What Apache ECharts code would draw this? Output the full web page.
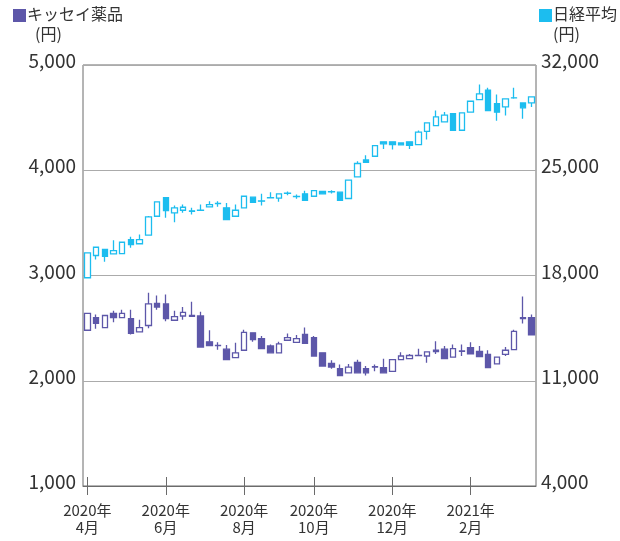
<!DOCTYPE html>
<html>
<head>
<meta charset="utf-8">
<script src="https://cdn.jsdelivr.net/npm/echarts@6/dist/echarts.min.js"></script>
<style>
  html, body { margin: 0; padding: 0; background: #fff; }
  #chart { width: 620px; height: 541px; }
</style>
</head>
<body>
<div id="chart"></div>
<script>
// weekly candles, [open, close, low, high]
const kisseiCandles = [
  [2480, 2640, 2475, 2645], [2600, 2545, 2495, 2630], [2505, 2620, 2500, 2625], [2640, 2600, 2555, 2665],
  [2600, 2640, 2595, 2675], [2590, 2450, 2440, 2675], [2465, 2505, 2460, 2580], [2525, 2730, 2500, 2835],
  [2735, 2700, 2675, 2810], [2730, 2590, 2565, 2820], [2575, 2610, 2570, 2665], [2615, 2650, 2580, 2700],
  [2620, 2612, 2605, 2750], [2615, 2320, 2315, 2655], [2370, 2335, 2330, 2480], [2337, 2333, 2295, 2365],
  [2300, 2200, 2195, 2340], [2220, 2265, 2215, 2360], [2290, 2460, 2285, 2485], [2455, 2390, 2370, 2460],
  [2400, 2305, 2300, 2425], [2330, 2265, 2260, 2345], [2265, 2350, 2260, 2370], [2385, 2410, 2380, 2450],
  [2365, 2400, 2360, 2435], [2440, 2355, 2350, 2505], [2410, 2235, 2230, 2425], [2265, 2140, 2135, 2270],
  [2165, 2130, 2115, 2195], [2115, 2050, 2045, 2155], [2075, 2130, 2070, 2160], [2175, 2075, 2070, 2200],
  [2115, 2075, 2050, 2140], [2135, 2130, 2090, 2155], [2125, 2075, 2070, 2210], [2090, 2200, 2085, 2205],
  [2200, 2235, 2195, 2270], [2210, 2240, 2205, 2255], [2242, 2238, 2235, 2305], [2235, 2275, 2170, 2280],
  [2290, 2278, 2255, 2375], [2300, 2210, 2205, 2330], [2225, 2305, 2220, 2345], [2283, 2280, 2235, 2345],
  [2315, 2255, 2250, 2365], [2280, 2230, 2225, 2330], [2250, 2125, 2120, 2290], [2160, 2225, 2155, 2230],
  [2250, 2290, 2235, 2320], [2295, 2470, 2290, 2485], [2600, 2590, 2545, 2800], [2600, 2435, 2430, 2630]
];

const nikkeiCandles = [
  [17850, 19500, 17800, 19550], [19330, 19880, 19060, 19900], [19730, 19280, 18910, 19760], [19440, 19660, 19400, 20350],
  [19460, 20210, 19450, 20250], [20390, 20060, 19840, 20570], [20110, 20390, 20100, 20720], [20680, 21900, 20660, 21950],
  [21940, 22900, 21920, 22920], [23170, 22320, 21840, 23200], [22170, 22500, 21540, 22650], [22340, 22540, 22170, 22720],
  [22300, 22270, 22050, 22500], [22350, 22340, 22320, 22720], [22570, 22720, 22560, 22940], [22790, 22780, 22570, 22940],
  [22500, 21720, 21700, 22830], [21940, 22340, 21930, 22720], [22500, 23270, 22480, 23300], [23210, 22870, 22860, 23220],
  [22960, 22940, 22650, 23430], [23170, 23160, 23150, 23540], [23140, 23430, 22900, 23440], [23480, 23470, 23340, 23580],
  [23260, 23250, 23100, 23390], [23430, 23000, 22990, 23630], [23270, 23650, 23260, 23660], [23600, 23430, 23420, 23620],
  [23570, 23560, 23450, 23670], [23540, 22990, 22980, 23560], [23120, 24340, 23110, 24360], [24560, 25450, 24550, 25600],
  [25690, 25530, 25500, 26000], [25930, 26640, 25920, 26660], [26890, 26760, 26420, 26900], [26890, 26710, 26380, 26900],
  [26820, 26690, 26680, 26830], [26890, 26660, 26420, 26900], [26710, 27530, 26700, 27640], [27590, 28150, 27040, 28160],
  [27970, 28550, 27950, 28970], [28220, 28660, 28200, 28880], [28770, 27660, 27650, 28780], [27660, 28820, 27650, 28830],
  [28860, 29590, 28850, 29600], [29700, 30080, 29690, 30700], [30320, 28970, 28960, 30480], [29430, 28860, 28300, 30030],
  [29210, 29750, 28640, 29760], [29820, 29810, 29750, 30480], [29480, 29150, 28420, 29490], [29480, 29880, 29210, 29890]
];

// week start dates
const firstWeek = '2020-04-06';
const weeks = [];
for (let i = 0; i < kisseiCandles.length; i++) {
  const d = new Date(firstWeek + 'T00:00:00Z');
  d.setUTCDate(d.getUTCDate() + i * 7);
  weeks.push(d.toISOString().slice(0, 10));
}

const tickWeeks = ['2020-04-06', '2020-06-08', '2020-08-10', '2020-10-05', '2020-12-07', '2021-02-08'];
const tickLabels = ['2020年\n4月', '2020年\n6月', '2020年\n8月', '2020年\n10月', '2020年\n12月', '2021年\n2月'];

const leftTicks = { min: 1000, max: 5000, step: 1000 };
const rightTicks = { min: 4000, max: 32000, step: 7000 };

const PURPLE = '#5d57a9';
const CYAN = '#1cbdef';
const FONT = '"Noto Sans CJK JP", "Noto Sans", sans-serif';

const showTick = (idx) => tickWeeks.indexOf(weeks[idx]) >= 0;
const fmt = (v) => v.toLocaleString('en-US');

const chart = echarts.init(document.getElementById('chart'), null, { renderer: 'canvas' });

chart.setOption({
  animation: false,
  textStyle: { fontFamily: FONT },
  grid: {
    left: 83, right: 84, top: 65, bottom: 55,
    show: true, borderColor: '#6b6b6b', borderWidth: 1, backgroundColor: 'transparent'
  },
  graphic: [
    { type: 'rect', left: 13, top: 9, shape: { width: 13, height: 13 }, style: { fill: PURPLE } },
    { type: 'text', left: 27, top: 6, style: { text: 'キッセイ薬品', font: '16px ' + FONT, fill: '#333' } },
    { type: 'text', left: 35, top: 26, style: { text: '(円)', font: '16px ' + FONT, fill: '#333' } },
    { type: 'rect', left: 539, top: 9, shape: { width: 13, height: 13 }, style: { fill: CYAN } },
    { type: 'text', left: 553, top: 6, style: { text: '日経平均', font: '16px ' + FONT, fill: '#333' } },
    { type: 'text', left: 553, top: 26, style: { text: '(円)', font: '16px ' + FONT, fill: '#333' } }
  ],
  xAxis: [
    {
      type: 'category',
      data: weeks,
      boundaryGap: true,
      axisLine: { show: true, lineStyle: { color: '#6b6b6b' } },
      axisTick: { show: true, alignWithLabel: true, interval: showTick, length: 9, lineStyle: { color: '#6b6b6b' } },
      axisLabel: {
        interval: showTick,
        formatter: (v) => tickLabels[tickWeeks.indexOf(v)] || '',
        margin: 16,
        fontSize: 15,
        lineHeight: 17,
        color: '#333'
      },
      splitLine: { show: false }
    },
    {
      type: 'category',
      data: weeks,
      position: 'bottom',
      boundaryGap: true,
      axisLine: { show: false },
      axisTick: { show: true, inside: true, alignWithLabel: true, interval: showTick, length: 9, lineStyle: { color: '#6b6b6b' } },
      axisLabel: { show: false },
      splitLine: { show: false }
    }
  ],
  yAxis: [
    {
      type: 'value',
      position: 'left',
      min: leftTicks.min,
      max: leftTicks.max,
      interval: leftTicks.step,
      axisLine: { show: false },
      axisTick: { show: false },
      axisLabel: { fontSize: 19, color: '#333', margin: 7, formatter: fmt, verticalAlign: 'bottom', lineHeight: 8 },
      splitLine: { show: true, lineStyle: { color: '#ababab', width: 1 } }
    },
    {
      type: 'value',
      position: 'right',
      min: rightTicks.min,
      max: rightTicks.max,
      interval: rightTicks.step,
      axisLine: { show: false },
      axisTick: { show: false },
      axisLabel: { fontSize: 19, color: '#333', margin: 5, formatter: fmt, verticalAlign: 'bottom', lineHeight: 8 },
      splitLine: { show: false }
    }
  ],
  series: [
    {
      name: 'キッセイ薬品',
      type: 'candlestick',
      xAxisIndex: 0,
      yAxisIndex: 0,
      barWidth: 6,
      itemStyle: { color: '#fff', color0: PURPLE, borderColor: PURPLE, borderColor0: PURPLE, borderWidth: 1.3 },
      data: kisseiCandles
    },
    {
      name: '日経平均',
      type: 'candlestick',
      xAxisIndex: 0,
      yAxisIndex: 1,
      barWidth: 6,
      itemStyle: { color: '#fff', color0: CYAN, borderColor: CYAN, borderColor0: CYAN, borderWidth: 1.3 },
      data: nikkeiCandles
    }
  ]
});
</script>
</body>
</html>
